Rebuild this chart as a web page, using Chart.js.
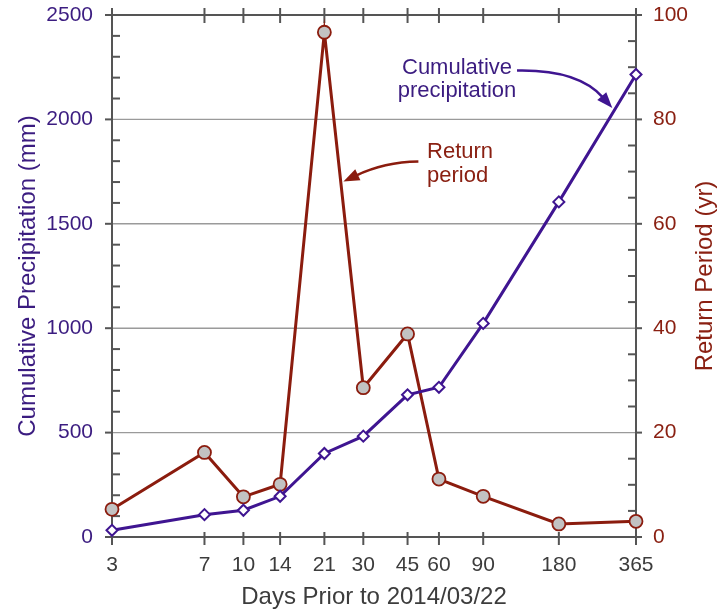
<!DOCTYPE html>
<html>
<head>
<meta charset="utf-8">
<title>Cumulative precipitation and return period</title>
<script src="https://cdn.jsdelivr.net/npm/chart.js@4/dist/chart.umd.min.js"></script>
<style>
  html, body { margin: 0; padding: 0; background: #ffffff; }
  canvas { display: block; }
</style>
</head>
<body>
<canvas id="chart" width="728" height="613"></canvas>
<script>
// Days before 2014/03/22 over which rainfall is accumulated
const days = [3, 7, 10, 14, 21, 30, 45, 60, 90, 180, 365];
// Cumulative precipitation for each window (mm)
const cumulativePrecip = [32, 107, 128, 195, 400, 483, 681, 717, 1023, 1605, 2215];
// Return period of that accumulation (years)
const returnPeriod = [5.3, 16.2, 7.7, 10.1, 96.7, 28.6, 38.9, 11.1, 7.8, 2.5, 3.0];
// Axis tick values
const precipTicks = [0, 500, 1000, 1500, 2000, 2500];
const returnTicks = [0, 20, 40, 60, 80, 100];
const precipMinorStep = 100;
const returnMinorStep = 5;

const FONT = "'Liberation Sans', Arial, Helvetica, sans-serif";
const PURPLE = '#3f1591';
const PURPLE_TEXT = '#3b1c80';
const RED = '#8b1c0e';
const RED_TEXT = '#8a2012';
const GREY_TEXT = '#3c3c3c';

// Frame, gridlines and tick marks (ticks cross the frame like a printed plot)
const framePlugin = {
  id: 'frame',
  beforeDatasetsDraw(chart) {
    const { ctx, chartArea: a, scales } = chart;
    const xs = scales.x, ys = scales.y, ys2 = scales.y2;
    const line = (x1, y1, x2, y2) => { ctx.beginPath(); ctx.moveTo(x1, y1); ctx.lineTo(x2, y2); ctx.stroke(); };
    ctx.save();
    ctx.lineCap = 'butt';
    // horizontal gridlines at major precipitation ticks
    ctx.strokeStyle = '#9a9a9a';
    ctx.lineWidth = 1.4;
    precipTicks.forEach(v => {
      const py = ys.getPixelForValue(v);
      if (py > a.top + 1 && py < a.bottom - 1) line(a.left, py, a.right, py);
    });
    // frame
    ctx.strokeStyle = '#555555';
    ctx.lineWidth = 2;
    ctx.strokeRect(a.left, a.top, a.right - a.left, a.bottom - a.top);
    // x ticks on bottom and top edges
    days.forEach(d => {
      const px = xs.getPixelForValue(d);
      line(px, a.bottom - 5, px, a.bottom + 8);
      line(px, a.top - 7, px, a.top + 8);
    });
    // left axis: major ticks outward, minor ticks inward
    precipTicks.forEach(v => {
      const py = ys.getPixelForValue(v);
      line(a.left - 7, py, a.left, py);
    });
    for (let v = precipMinorStep; v < precipTicks[precipTicks.length - 1]; v += precipMinorStep) {
      if (v % 500 === 0) continue;
      const py = ys.getPixelForValue(v);
      line(a.left, py, a.left + 8, py);
    }
    // right axis: major ticks outward, minor ticks inward
    returnTicks.forEach(v => {
      const py = ys2.getPixelForValue(v);
      line(a.right, py, a.right + 6, py);
    });
    for (let v = returnMinorStep; v < returnTicks[returnTicks.length - 1]; v += returnMinorStep) {
      if (v % 20 === 0) continue;
      const py = ys2.getPixelForValue(v);
      line(a.right - 8, py, a.right, py);
    }
    ctx.restore();
  }
};

// Callout labels with curved arrows, anchored in data units (days, mm)
const calloutPlugin = {
  id: 'callouts',
  afterDatasetsDraw(chart) {
    const { ctx, scales } = chart;
    const X = d => scales.x.getPixelForValue(d);
    const Y = v => scales.y.getPixelForValue(v);
    const arrow = (p0, pc, p1, color) => {
      ctx.save();
      ctx.strokeStyle = color;
      ctx.fillStyle = color;
      ctx.lineWidth = 2.5;
      const ang = Math.atan2(p1[1] - pc[1], p1[0] - pc[0]);
      const len = 16, half = 6;
      // stop the shaft at the base of the head
      const bx = p1[0] - Math.cos(ang) * (len - 2);
      const by = p1[1] - Math.sin(ang) * (len - 2);
      ctx.beginPath();
      ctx.moveTo(p0[0], p0[1]);
      ctx.quadraticCurveTo(pc[0], pc[1], bx, by);
      ctx.stroke();
      ctx.beginPath();
      ctx.moveTo(p1[0], p1[1]);
      ctx.lineTo(p1[0] - Math.cos(ang) * len - Math.sin(ang) * half, p1[1] - Math.sin(ang) * len + Math.cos(ang) * half);
      ctx.lineTo(p1[0] - Math.cos(ang) * len + Math.sin(ang) * half, p1[1] - Math.sin(ang) * len - Math.cos(ang) * half);
      ctx.closePath();
      ctx.fill();
      ctx.restore();
    };
    ctx.save();
    ctx.font = `22px ${FONT}`;
    ctx.textBaseline = 'alphabetic';
    // Cumulative precipitation
    ctx.fillStyle = PURPLE_TEXT;
    ctx.textAlign = 'center';
    ctx.fillText('Cumulative', X(70.8), Y(2218));
    ctx.fillText('precipitation', X(70.8), Y(2109));
    arrow([X(122.7), Y(2234)], [X(215), Y(2240)], [X(293.8), Y(2054)], PURPLE);
    // Return period
    ctx.fillStyle = RED_TEXT;
    ctx.textAlign = 'left';
    ctx.fillText('Return', X(53.8), Y(1814));
    ctx.fillText('period', X(53.8), Y(1700));
    arrow([X(49.7), Y(1798)], [X(36.3), Y(1795)], [X(25.0), Y(1702)], RED);
    ctx.restore();
  }
};

// Right-hand axis title, reading bottom to top
const rightTitlePlugin = {
  id: 'rightTitle',
  afterDraw(chart) {
    const { ctx, chartArea: a, scales } = chart;
    ctx.save();
    ctx.translate(scales.y2.right - 23, (a.top + a.bottom) / 2);
    ctx.rotate(-Math.PI / 2);
    ctx.font = `24px ${FONT}`;
    ctx.fillStyle = RED_TEXT;
    ctx.textAlign = 'center';
    ctx.textBaseline = 'middle';
    ctx.fillText('Return Period (yr)', 0, 0);
    ctx.restore();
  }
};

// Fixed axis box sizes; the end labels are allowed to overhang the plot area
const fixWidth = w => s => { s.width = w; s.paddingTop = 0; s.paddingBottom = 0; };

new Chart(document.getElementById('chart'), {
  type: 'line',
  data: {
    datasets: [
      {
        label: 'Cumulative precipitation',
        data: days.map((d, i) => ({ x: d, y: cumulativePrecip[i] })),
        yAxisID: 'y',
        borderColor: PURPLE,
        borderWidth: 3,
        pointStyle: 'rectRot',
        pointRadius: 5.5,
        pointBackgroundColor: '#ffffff',
        pointBorderColor: PURPLE,
        pointBorderWidth: 2,
        tension: 0,
        clip: false
      },
      {
        label: 'Return period',
        data: days.map((d, i) => ({ x: d, y: returnPeriod[i] })),
        yAxisID: 'y2',
        borderColor: RED,
        borderWidth: 3,
        pointStyle: 'circle',
        pointRadius: 6.5,
        pointBackgroundColor: '#c2c2c2',
        pointBorderColor: RED,
        pointBorderWidth: 1.8,
        tension: 0,
        clip: false
      }
    ]
  },
  options: {
    responsive: false,
    devicePixelRatio: 1,
    animation: false,
    layout: { padding: { top: 15, left: 0, right: 0, bottom: 0 } },
    plugins: { legend: { display: false }, tooltip: { enabled: false } },
    scales: {
      x: {
        type: 'logarithmic',
        position: 'bottom',
        min: days[0],
        max: days[days.length - 1],
        afterBuildTicks: s => { s.ticks = days.map(v => ({ value: v })); },
        afterFit: s => { s.height = 76; s.paddingLeft = 0; s.paddingRight = 0; },
        grid: { display: false, drawTicks: false },
        border: { display: false },
        ticks: {
          autoSkip: false,
          maxRotation: 0,
          padding: 16,
          color: GREY_TEXT,
          font: { family: FONT, size: 21 },
          callback: v => String(v)
        },
        title: {
          display: true,
          text: 'Days Prior to 2014/03/22',
          color: GREY_TEXT,
          font: { family: FONT, size: 24 },
          padding: { top: 0, bottom: 1 }
        }
      },
      y: {
        type: 'linear',
        position: 'left',
        min: precipTicks[0],
        max: precipTicks[precipTicks.length - 1],
        afterBuildTicks: s => { s.ticks = precipTicks.map(v => ({ value: v })); },
        afterFit: fixWidth(112),
        grid: { display: false, drawTicks: false },
        border: { display: false },
        ticks: { padding: 19, color: PURPLE_TEXT, font: { family: FONT, size: 21 }, callback: v => String(v) },
        title: {
          display: true,
          text: 'Cumulative Precipitation (mm)',
          color: PURPLE_TEXT,
          font: { family: FONT, size: 24 },
          padding: { top: 13.6, bottom: 0 }
        }
      },
      y2: {
        type: 'linear',
        position: 'right',
        min: returnTicks[0],
        max: returnTicks[returnTicks.length - 1],
        afterBuildTicks: s => { s.ticks = returnTicks.map(v => ({ value: v })); },
        afterFit: fixWidth(92),
        grid: { display: false, drawTicks: false },
        border: { display: false },
        ticks: { padding: 17, color: RED_TEXT, font: { family: FONT, size: 21 }, callback: v => String(v) },
        title: { display: false }
      }
    }
  },
  plugins: [framePlugin, calloutPlugin, rightTitlePlugin]
});
</script>
</body>
</html>
